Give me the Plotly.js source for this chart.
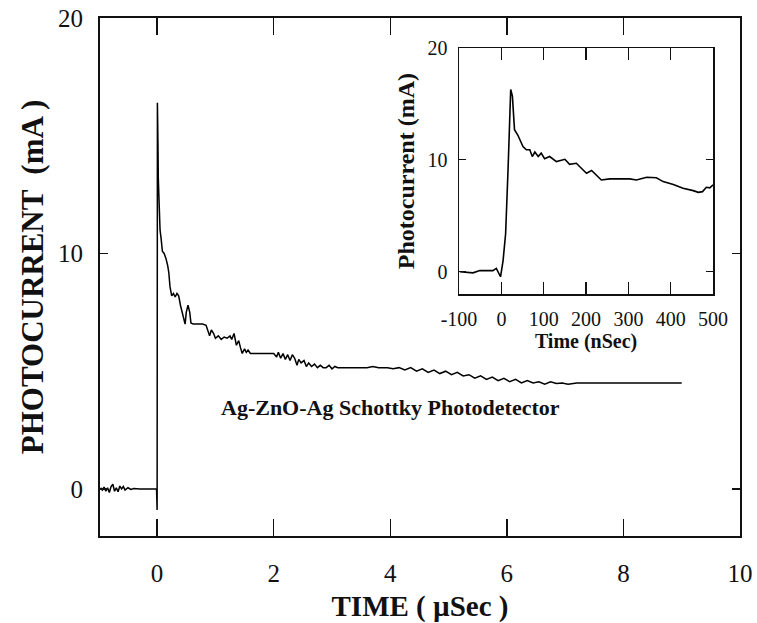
<!DOCTYPE html>
<html>
<head>
<meta charset="utf-8">
<script src="https://cdn.plot.ly/plotly-3.0.1.min.js"></script>
<style>html,body{margin:0;padding:0;background:#fff;}#chart{width:757px;height:623px;}</style>
</head>
<body>
<div id="chart"></div>
<script>
// Main trace: time in microseconds, photocurrent in mA
const timeMain = [
  -0.97,-0.94,-0.91,-0.88,-0.85,-0.82,-0.79,-0.76,-0.73,-0.70,-0.67,-0.64,-0.61,-0.58,-0.55,-0.50,-0.45,-0.40,-0.30,-0.20,-0.10,-0.01,
  0.00,0.005,0.010,0.015,0.02,0.03,0.05,0.07,0.09,0.12,0.15,0.18,0.20,0.22,0.25,0.28,0.31,0.34,0.37,0.40,0.44,0.48,0.50,0.53,0.56,0.58,
  0.62,0.70,0.78,0.84,0.87,0.90,0.93,0.97,1.00,1.05,1.10,1.15,1.20,1.25,1.28,1.32,1.36,1.40,1.43,1.46,1.50,1.53,1.56,1.60,1.70,1.80,1.90,
  2.00,2.05,2.08,2.12,2.16,2.20,2.24,2.28,2.32,2.36,2.40,2.43,2.47,2.52,2.56,2.60,2.65,2.70,2.75,2.80,2.85,2.90,2.95,3.00,3.05,3.10,3.20,
  3.40,3.60,3.70,3.80,3.95,4.05,4.15,4.25,4.35,4.45,4.55,4.65,4.75,4.85,4.95,5.05,5.15,5.25,5.35,5.45,5.55,5.65,5.75,5.85,5.95,6.05,6.15,
  6.25,6.35,6.45,6.55,6.65,6.75,6.85,6.95,7.05,7.20,7.50,8.00,8.50,9.00
];
const currentMain = [
  0.05,-0.05,0.08,-0.10,0.05,-0.15,0.10,0.20,-0.10,0.05,-0.12,0.12,0.00,0.10,-0.05,0.05,-0.02,0.02,0.00,0.00,0.00,0.00,
  -0.90,16.40,14.70,14.60,13.20,12.20,11.00,10.60,10.10,10.00,9.80,9.50,9.20,8.60,8.20,8.30,8.15,8.30,8.20,7.80,7.40,7.00,7.50,7.80,7.50,7.05,
  7.00,7.00,7.00,6.95,6.70,6.50,6.75,6.60,6.40,6.50,6.35,6.45,6.40,6.50,6.35,6.60,6.10,6.30,6.00,5.75,5.95,5.80,5.90,5.75,5.75,5.75,5.75,
  5.75,5.60,5.80,5.55,5.75,5.50,5.70,5.45,5.70,5.55,5.25,5.50,5.35,5.45,5.20,5.35,5.20,5.30,5.15,5.25,5.15,5.15,5.25,5.10,5.20,5.15,5.15,
  5.15,5.15,5.20,5.15,5.15,5.10,5.15,5.05,5.15,5.00,5.10,4.95,5.05,4.90,5.00,4.85,4.95,4.80,4.85,4.70,4.80,4.65,4.75,4.60,4.70,4.55,4.65,
  4.50,4.60,4.50,4.55,4.45,4.55,4.48,4.50,4.45,4.50,4.50,4.50,4.50,4.50
];

// Inset trace: time in nanoseconds, photocurrent in mA
const timeInset = [-98,-67,-51,-20,-12,-2,4,10,16,22,26,31,39,51,59,67,73,79,87,94,102,114,130,142,150,161,177,193,201,213,224,236,256,280,303,319,343,366,382,406,429,453,465,475,484,492,500];
const currentInset = [0.0,-0.1,0.1,0.1,0.3,-0.45,1.0,3.4,9.4,16.3,15.7,12.7,12.2,11.2,10.9,10.9,10.3,10.7,10.3,10.6,10.1,10.3,9.85,9.94,10.05,9.6,9.7,9.1,8.8,9.05,8.66,8.2,8.3,8.3,8.3,8.2,8.45,8.4,8.06,7.8,7.46,7.25,7.1,7.16,7.55,7.5,7.76];

const mainTicks = [0, 2, 4, 6, 8, 10];
const yTicks = [0, 10, 20];
const insetTicks = [-100, 0, 100, 200, 300, 400, 500];

const serif = '"Liberation Serif", "Times New Roman", serif';
const ink = '#111';

const traces = [
  {x: timeMain, y: currentMain, type: 'scatter', mode: 'lines', line: {color: '#000', width: 1.5}, xaxis: 'x', yaxis: 'y', hoverinfo: 'skip'},
  {x: timeInset, y: currentInset, type: 'scatter', mode: 'lines', line: {color: '#000', width: 1.6}, xaxis: 'x2', yaxis: 'y2', hoverinfo: 'skip'}
];

const layout = {
  width: 757, height: 623,
  margin: {l: 100, r: 17, t: 18, b: 87},
  paper_bgcolor: '#fff', plot_bgcolor: '#fff',
  showlegend: false,
  font: {family: serif, color: ink},
  xaxis: {
    range: [-0.98, 10], tickvals: mainTicks, ticktext: mainTicks.map(String),
    ticks: 'inside', ticklen: 17, tickwidth: 1.5, tickcolor: ink,
    showline: true, linewidth: 2, linecolor: ink, mirror: 'ticks',
    showgrid: false, zeroline: false, ticklabelstandoff: 14,
    tickfont: {family: serif, size: 25, color: ink},
    title: {text: 'TIME ( µSec )', standoff: 10, font: {family: serif, size: 29, weight: 'bold', color: ink}}
  },
  yaxis: {
    range: [-2, 20], tickvals: yTicks, ticktext: yTicks.map(String),
    ticks: 'inside', ticklen: 8, tickwidth: 1.5, tickcolor: ink,
    showline: true, linewidth: 2, linecolor: ink, mirror: 'ticks',
    showgrid: false, zeroline: false, ticklabelstandoff: 10,
    tickfont: {family: serif, size: 25, color: ink},
    title: {text: 'PHOTOCURRENT  (mA )', standoff: 5, font: {family: serif, size: 31, weight: 'bold', color: ink}}
  },
  xaxis2: {
    domain: [0.561, 0.958], anchor: 'y2',
    range: [-100, 500], tickvals: insetTicks, ticktext: insetTicks.map(String),
    ticks: 'inside', ticklen: 12, tickwidth: 1.2, tickcolor: ink,
    showline: true, linewidth: 1.5, linecolor: ink, mirror: 'ticks',
    showgrid: false, zeroline: false, ticklabelstandoff: 6,
    tickfont: {family: serif, size: 20, color: ink},
    title: {text: 'Time (nSec)', standoff: 4, font: {family: serif, size: 20, weight: 'bold', color: ink}}
  },
  yaxis2: {
    domain: [0.467, 0.942], anchor: 'x2',
    range: [-2, 20], tickvals: yTicks, ticktext: yTicks.map(String),
    ticks: 'inside', ticklen: 7, tickwidth: 1.2, tickcolor: ink,
    showline: true, linewidth: 1.5, linecolor: ink, mirror: 'ticks',
    showgrid: false, zeroline: false, ticklabelstandoff: 6,
    tickfont: {family: serif, size: 20, color: ink},
    title: {text: 'Photocurrent (mA)', standoff: 6, font: {family: serif, size: 24, weight: 'bold', color: ink}}
  },
  annotations: [
    {text: 'Ag-ZnO-Ag Schottky Photodetector', x: 4.0, y: 3.45, xref: 'x', yref: 'y', showarrow: false,
     font: {family: serif, size: 22, weight: 'bold', color: ink}}
  ]
};

Plotly.newPlot('chart', traces, layout, {staticPlot: true, displayModeBar: false});
</script>
</body>
</html>
